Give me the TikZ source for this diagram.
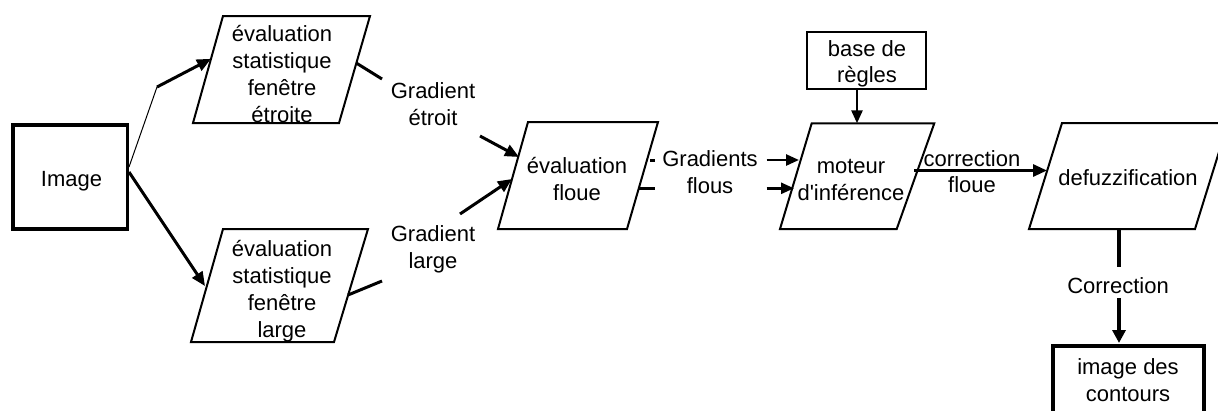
\documentclass[tikz,border=0pt]{standalone}
\usepackage{fontspec}
\setmainfont{Liberation Sans}
\usetikzlibrary{arrows.meta,calc}
\begin{document}
\begin{tikzpicture}[x=1pt,y=-1pt,
  txt/.style={inner sep=0pt, align=center, font=\fontsize{22}{27}\selectfont},
  para/.style={draw, line width=2pt, line join=miter},
  box/.style={draw, inner sep=0pt, align=center, font=\fontsize{22}{26}\selectfont},
  arr/.style={line width=3pt, -{Triangle[length=14pt,width=12pt]}},
  sarr/.style={line width=2.6pt, -{Triangle[length=13pt,width=11pt]}},
  conn/.style={line width=3pt},
  thinconn/.style={line width=1pt}]
\useasboundingbox (0,0) rectangle (1218,410);
\clip (0,0) rectangle (1218,410);

% Image box
\node[draw, line width=3.6pt, minimum width=114.5pt, minimum height=104pt, inner sep=0pt] (img) at (70.25,176.7) {};
\node[txt] (imgt) at (71.5,181) {Image};

% parallelogram 1
\coordinate (p1tl) at (223,16); \coordinate (p1tr) at (370,16);
\coordinate (p1br) at (339,123); \coordinate (p1bl) at (193,123);
\draw[para] (p1tl) -- (p1tr) -- (p1br) -- (p1bl) -- cycle;
\node[txt] (p1) at (282,74.5) {évaluation\\statistique\\fenêtre\\étroite};

% parallelogram 2
\coordinate (p2tl) at (223,229); \coordinate (p2tr) at (368,229);
\coordinate (p2br) at (334,342); \coordinate (p2bl) at (191,342);
\draw[para] (p2tl) -- (p2tr) -- (p2br) -- (p2bl) -- cycle;
\node[txt] (p2) at (282,291) {évaluation\\statistique\\fenêtre\\large};

% parallelogram 3
\coordinate (p3tl) at (528,122); \coordinate (p3tr) at (658,122);
\coordinate (p3br) at (627,229); \coordinate (p3bl) at (498,229);
\draw[para] (p3tl) -- (p3tr) -- (p3br) -- (p3bl) -- cycle;
\node[txt] (p3) at (577,179) {évaluation\\floue};

% parallelogram 4
\coordinate (p4tl) at (811.7,123.3); \coordinate (p4tr) at (934.3,123.3);
\coordinate (p4br) at (896.7,229); \coordinate (p4bl) at (780,229);
\draw[para] (p4tl) -- (p4tr) -- (p4br) -- (p4bl) -- cycle;
\node[txt] (p4) at (851,180) {moteur\\d\textquotesingle inférence};

% parallelogram 5
\coordinate (p5tl) at (1062,123); \coordinate (p5tr) at (1228,123);
\coordinate (p5br) at (1195,229); \coordinate (p5bl) at (1029,229);
\draw[para] (p5tl) -- (p5tr) -- (p5br) -- (p5bl) -- cycle;
\node[txt] (p5) at (1128,177.7) {defuzzification};

% base de regles
\node[box, line width=2pt, minimum width=119pt, minimum height=57pt] (base) at (866.7,60.3) {};
\node[txt, font=\fontsize{22}{26}\selectfont] (baset) at (867,63.5) {base de\\règles};

% image des contours
\node[draw, line width=4pt, minimum width=151pt, minimum height=90pt, inner sep=0pt] (out) at (1128,390.8) {};
\node[txt] (outt) at (1128,380.3) {image des\\contours};

% labels
\node[txt] (lab1) at (433,104) {Gradient\\étroit};
\node[txt] (lab2) at (433,249.6) {Gradient\\large};
\node[txt] (lab3) at (710,172.5) {Gradients\\flous};
\node[txt, font=\fontsize{22}{26}\selectfont] (lab4) at (972,172) {correction\\floue};
\node[txt] (lab5) at (1118,285.5) {Correction};

% connectors: Image -> p1
\coordinate (k1) at (157,87);
\coordinate (a1) at (129,167);
\draw[thinconn] (a1) -- (k1);
\draw[arr] (k1) -- ($(p1bl)!0.6!(p1tl)$);
% Image -> p2
\coordinate (a2) at (129,172);
\draw[arr] (a2) -- (205,286);

% p1 -> lab1 -> p3
\coordinate (c1) at (382,79);
\coordinate (c2) at (480,136);
\draw[conn] ($(p1br)!0.56!(p1tr)$) -- (c1);
\draw[arr] (c2) -- (519,157);

% p2 -> lab2 -> p3
\coordinate (d1) at (382,281);
\coordinate (d2) at (460,214);
\draw[conn] (348,295) -- (d1);
\draw[arr] (d2) -- (512,179);

% p3 -> lab3 -> p4
\coordinate (e1) at (655,160);
\coordinate (e2) at (766.7,160);
\coordinate (e3) at (655,188.3);
\coordinate (e4) at (766.7,188.3);
\draw[conn] (650,160) -- (e1);
\draw[sarr] (e2) -- (799,160);
\draw[conn] (639,188.3) -- (e3);
\draw[sarr] (e4) -- (794,188.3);

% base -> p4
\draw[sarr] ($(base.south)+(-9.7,0)$) -- (857,123.3);

% p4 -> p5
\draw[arr] (914,170.5) -- (1047,170.5);

% p5 -> out
\coordinate (f1) at (1119,267);
\coordinate (f2) at (1119,298);
\draw[line width=3.6pt] (1119,229) -- (f1);
\draw[line width=3.6pt, -{Triangle[length=13pt,width=13pt]}] (f2) -- (1119,343);
\end{tikzpicture}
\end{document}
